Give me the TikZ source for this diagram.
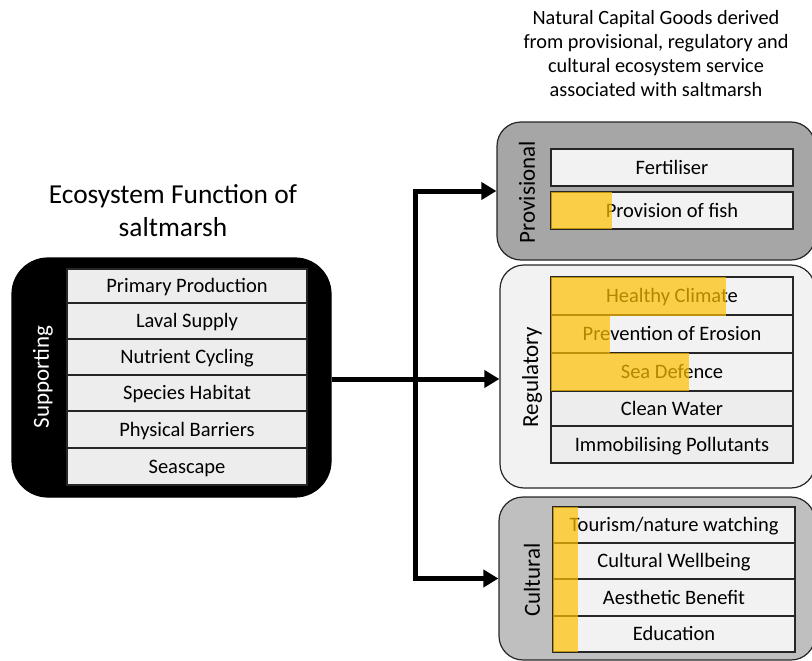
\documentclass[tikz,border=0pt]{standalone}
\usepackage{fontspec}
\setmainfont{Carlito}
\usetikzlibrary{arrows.meta}

\definecolor{rowgray}{HTML}{EDEDED}
\definecolor{rowlight}{HTML}{F2F2F2}
\definecolor{provfill}{HTML}{A6A6A6}
\definecolor{regfill}{HTML}{F2F2F2}
\definecolor{cultfill}{HTML}{BFBFBF}
\definecolor{gold}{HTML}{FFC000}
\definecolor{ink}{HTML}{262626}

\tikzset{
  panel/.style={draw=ink, line width=1.2pt, rounded corners=24pt, inner sep=0pt},
  itemrow/.style={draw=ink, line width=1.3pt, inner sep=0pt, text=black,
    text height=15.5pt, text depth=2.5pt,
    font=\fontsize{20.5}{24}\selectfont},
  sidelabel/.style={rotate=90, font=\fontsize{23}{26}\selectfont, inner sep=0pt},
  highlight/.style={fill=gold, fill opacity=0.7, draw=none},
  flow/.style={line width=5pt, -{Triangle[length=15pt,width=17pt]}},
  heading/.style={align=center, inner sep=0pt}
}

% row node: name, x-left, x-right, y-top, y-bottom, fill, text
\newcommand{\itembox}[7]{%
  \node[itemrow, fill=#6, minimum width={#3-#2}, minimum height={#5-#4}]
    (#1) at ({(#2+#3)/2},{(#4+#5)/2}) {#7};}

\begin{document}
\begin{tikzpicture}[x=1pt,y=-1pt]
\useasboundingbox (0,0) rectangle (812,661);
\clip (0,0) rectangle (812,661);

% headings
\node[heading, font=\fontsize{20.3}{24}\selectfont] (goodsTitle) at (656,53.5)
  {Natural Capital Goods derived\\from provisional, regulatory and\\cultural ecosystem service\\associated with saltmarsh};
\node[heading, font=\fontsize{27.4}{33}\selectfont] (funcTitle) at (173,211)
  {Ecosystem Function of\\saltmarsh};

% supporting functions
\node[panel, draw=black, fill=black, rounded corners=36pt, minimum width=319pt, minimum height=239pt]
  (sup) at (171.5,377.5) {};
\node[sidelabel, text=white] (supLabel) at (43,377) {Supporting};
\itembox{primary}{67}{307}{269}{303}{rowgray}{Primary Production}
\itembox{laval}{67}{307}{303}{339}{rowgray}{Laval Supply}
\itembox{nutrient}{67}{307}{339}{375}{rowgray}{Nutrient Cycling}
\itembox{habitat}{67}{307}{375}{411}{rowgray}{Species Habitat}
\itembox{barriers}{67}{307}{411}{448}{rowgray}{Physical Barriers}
\itembox{seascape}{67}{307}{448}{485}{rowgray}{Seascape}

% provisional services
\node[panel, fill=provfill, minimum width=318pt, minimum height=138pt]
  (prov) at (656,191) {};
\node[sidelabel] (provLabel) at (527,192) {Provisional};
\itembox{fertiliser}{551}{793}{149}{186}{rowlight}{Fertiliser}
\itembox{fish}{551}{793}{192}{229}{rowlight}{Provision of fish}
\fill[highlight] (551,192) rectangle (612,229);

% regulatory services
\node[panel, fill=regfill, minimum width=315pt, minimum height=223pt]
  (reg) at (657.5,376.5) {};
\node[sidelabel] (regLabel) at (532,377) {Regulatory};
\itembox{climate}{551}{793}{277}{315}{rowlight}{Healthy Climate}
\itembox{erosion}{551}{793}{315}{353}{rowlight}{Prevention of Erosion}
\itembox{defence}{551}{793}{353}{391}{rowlight}{Sea Defence}
\itembox{water}{551}{793}{391}{426}{rowgray}{Clean Water}
\itembox{pollutants}{551}{793}{426}{463}{rowgray}{Immobilising Pollutants}
\fill[highlight] (551,277) rectangle (726,316);
\fill[highlight] (551,316) rectangle (610,353);
\fill[highlight] (551,353) rectangle (689,391);

% cultural services
\node[panel, fill=cultfill, minimum width=316pt, minimum height=163pt]
  (cult) at (657,578.5) {};
\node[sidelabel] (cultLabel) at (532,580) {Cultural};
\itembox{tourism}{553}{795}{507}{543}{rowlight}{Tourism/nature watching}
\itembox{wellbeing}{553}{795}{543}{579}{rowlight}{Cultural Wellbeing}
\itembox{aesthetic}{553}{795}{579}{616}{rowlight}{Aesthetic Benefit}
\itembox{education}{553}{795}{616}{652}{rowlight}{Education}
\fill[highlight] (553,507) rectangle (578,652);

% connectors
\coordinate (split) at (415,379);
\draw[flow] (sup.east |- split) -- (reg.west |- split);
\draw[flow] (split) |- (prov.west);
\draw[flow] (split) |- (cult.west);
\end{tikzpicture}
\end{document}
